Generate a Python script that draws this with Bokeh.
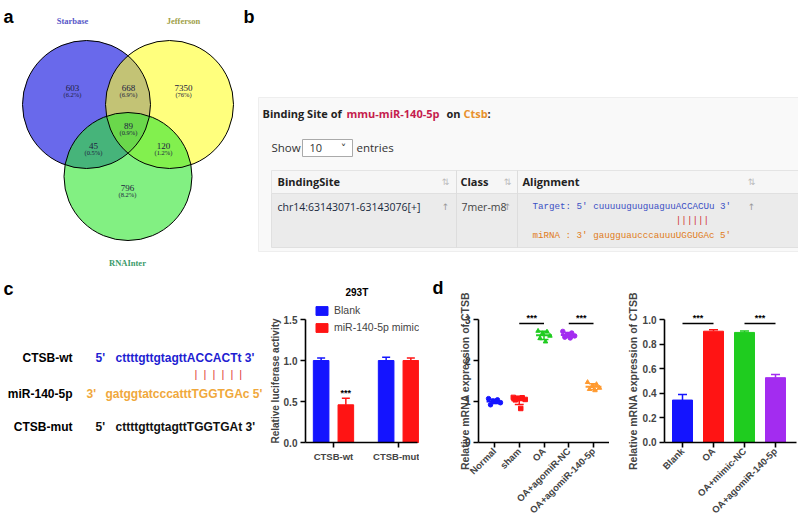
import numpy as np
from bokeh.plotting import figure
from bokeh.models import (Range1d, ColumnDataSource, LinearAxis, FixedTicker, Whisker,
                          TeeHead, Legend, LegendItem, NumeralTickFormatter)
from bokeh.layouts import column, row
from bokeh.embed import file_html
from bokeh.resources import INLINE
from bokeh.core.properties import value

# ---------------- data ----------------
venn_sets = ["Starbase", "Jefferson", "RNAInter"]
venn_regions = ["Starbase", "Starbase&Jefferson", "Jefferson", "all",
                "Starbase&RNAInter", "Jefferson&RNAInter", "RNAInter"]
venn_counts = [603, 668, 7350, 89, 45, 120, 796]

mirna_name = "mmu-miR-140-5p"
target_gene = "Ctsb"
binding_site = "chr14:63143071-63143076[+]"
site_class = "7mer-m8"
target_line = "Target: 5' cuuuuuguuguaguuACCACUu 3'"
mirna_line = "miRNA : 3' gaugguaucccauuuUGGUGAc 5'"

seq_names = ["CTSB-wt", "miR-140-5p", "CTSB-mut"]
seq_start = ["5'", "3'", "5'"]
seq_bodies = ["cttttgttgtagttACCACTt 3'", "gatggtatcccatttTGGTGAc 5'",
              "cttttgttgtagttTGGTGAt 3'"]

luc_groups = ["CTSB-wt", "CTSB-mut"]
luc_series = ["Blank", "miR-140-5p mimic"]
luc_blank = [1.00, 1.00]
luc_blank_err = [0.03, 0.04]
luc_mimic = [0.46, 1.00]
luc_mimic_err = [0.08, 0.03]

mrna_groups = ["Normal", "sham", "OA", "OA+agomiR-NC", "OA+agomiR-140-5p"]
mrna_points = [
    [1.07, 1.04, 1.01, 0.97, 0.92, 1.00],
    [1.10, 1.09, 1.07, 1.05, 1.04, 0.83],
    [2.72, 2.70, 2.66, 2.60, 2.54, 2.46],
    [2.71, 2.67, 2.63, 2.60, 2.57, 2.55],
    [1.47, 1.42, 1.37, 1.33, 1.30, 1.27],
]
mrna_yticks = [0, 1, 2, 3]

cell_groups = ["Blank", "OA", "OA+mimic-NC", "OA+agomiR-140-5p"]
cell_means = [0.345, 0.905, 0.895, 0.527]
cell_errs = [0.045, 0.012, 0.012, 0.025]

# ---------------- styles ----------------
BLUE, RED, GREEN, PURPLE, ORANGE = "#1414ff", "#ff1414", "#1fcc1f", "#a32cf0", "#ff9a30"
SANS = "Liberation Sans"
NB = "\u00a0"


def canvas(w, h, xr, yr):
    return figure(width=w, height=h, x_range=Range1d(*xr), y_range=Range1d(*yr),
                  x_axis_type=None, y_axis_type=None, output_backend="svg",
                  toolbar_location=None, min_border=0, outline_line_color=None,
                  background_fill_color="white", border_fill_color="white")


def txt(p, x, y, s, size, color="black", font=SANS, style="normal",
        align="left", baseline="middle"):
    p.text(x=[x], y=[y], text=[s], text_font=value(font), text_font_size=size,
           text_color=color, text_font_style=style, text_align=align,
           text_baseline=baseline)


def style_axis(ax, fs="10px", lfs="10px", lstand=4):
    ax.axis_line_width = 1.6
    ax.axis_line_color = "black"
    ax.major_tick_line_width = 1.6
    ax.major_tick_out = 5
    ax.major_tick_in = 0
    ax.minor_tick_line_color = None
    ax.major_label_text_font = SANS
    ax.major_label_text_font_style = "bold"
    ax.major_label_text_font_size = fs
    ax.major_label_standoff = 3
    ax.axis_label_text_font = SANS
    ax.axis_label_text_font_style = "bold"
    ax.axis_label_text_font_size = lfs
    ax.axis_label_standoff = lstand


# ---------------- panel a : Venn ----------------
pa = canvas(243, 268, (0, 243), (268, 0))
txt(pa, 3, 16, "a", "18px", style="bold", baseline="alphabetic")
vx, vy, vr = [86, 169, 127.5], [104, 104, 176], 64
pa.circle(x=vx, y=vy, radius=vr, fill_color=["#0505de", "#ffff26", "#2fe62f"],
          fill_alpha=0.6, line_color=None)
pa.circle(x=vx, y=vy, radius=vr, fill_color=None, line_color="black", line_width=1)
for s, x, y, c in zip(venn_sets, [72, 183, 127], [20, 20, 262],
                      ["#5858c8", "#a0a048", "#3a9a6a"]):
    txt(pa, x, y, s, "8.5px", color=c, font="Liberation Serif", style="bold", align="center")
total = sum(venn_counts)
for c, x, y in zip(venn_counts, [72, 128, 183, 128, 93, 163, 127],
                   [87, 87, 87, 125, 145, 145, 187]):
    pct = 100.0 * c / total
    ps = f"({pct:.0f}%)" if pct >= 10 else f"({pct:.1f}%)"
    txt(pa, x, y, str(c), "9px", color="#202040", font="Liberation Serif", align="center")
    txt(pa, x, y + 7, ps, "6.5px", color="#202040", font="Liberation Serif", align="center")

# ---------------- panel b : table ----------------
pb = canvas(555, 268, (243, 798), (268, 0))
txt(pb, 243, 16, "b", "18px", style="bold", baseline="alphabetic")
pb.quad(left=[258], right=[798], top=[97], bottom=[251], fill_color="#f9f9f9",
        line_color="#eeeeee")
OS = "Open Sans"
title_parts = [("Binding Site of", 262, "#222222"), (mirna_name, 346, "#c51d4e"),
               ("on", 446, "#222222"), (target_gene, 463, "#e8912d"), (":", 487, "#222222")]
for s, x, c in title_parts:
    txt(pb, x, 113, s, "11px", color=c, font=OS, style="bold")
txt(pb, 271, 147, "Show", "11.5px", color="#333333", font=OS)
pb.quad(left=[302], right=[352], top=[139], bottom=[156], fill_color="white",
        line_color="#aaaaaa")
txt(pb, 309, 147.5, "10", "11px", color="#333333", font=OS)
txt(pb, 343, 148, "˅", "11px", color="#333333", font="DejaVu Sans", align="center")
txt(pb, 356, 147, "entries", "11.5px", color="#333333", font=OS)
# table
pb.quad(left=[271], right=[798], top=[170], bottom=[193], fill_color="#f6f6f6",
        line_color="#e4e4e4")
pb.quad(left=[271], right=[798], top=[193], bottom=[247], fill_color="#ebebeb",
        line_color="#e0e0e0")
pb.segment(x0=[456, 517], y0=[170, 170], x1=[456, 517], y1=[247, 247],
           line_color="#dddddd", line_width=1)
for s, x in [("BindingSite", 277), ("Class", 460), ("Alignment", 522)]:
    txt(pb, x, 181, s, "11px", color="#222222", font=OS, style="bold")
for x in [445, 507, 751]:
    txt(pb, x, 181, "⇅", "9px", color="#bbbbbb", font="DejaVu Sans", align="center")
    txt(pb, x, 206, "↑", "9px", color="#999999", font="DejaVu Sans", align="center")
txt(pb, 277, 206, binding_site, "10.5px", color="#1a2a40", font=OS)
txt(pb, 461, 206, site_class, "10.5px", color="#444444", font=OS)
MONO = "Liberation Mono"
txt(pb, 532, 206, target_line, "9.2px", color="#3a4fc4", font=MONO)
pairs = NB * (len(target_line) - 10) + "||||||"
txt(pb, 532, 220, pairs, "9.2px", color="#d03030", font=MONO)
txt(pb, 532, 235, mirna_line, "9.2px", color="#e07b20", font=MONO)

# ---------------- panel c : sequences ----------------
pct_ = canvas(267, 248, (0, 267), (516, 268))
txt(pct_, 3, 288, "c", "18px", style="bold", baseline="alphabetic")
seq_colors = ["#1e1ed2", "#f0a83c", "#111111"]
seq_y = [357, 393, 426]
seq_x0 = [95, 86, 95]
seq_x1 = [115, 105, 115]
for n, st, b, c, y, x0, x1 in zip(seq_names, seq_start, seq_bodies, seq_colors,
                                   seq_y, seq_x0, seq_x1):
    txt(pct_, 72, y, n, "12px", style="bold", align="right")
    txt(pct_, x0, y, st, "12px", color=c, style="bold")
    txt(pct_, x1, y, b, "12px", color=c, style="bold")
txt(pct_, 194, 373, (NB * 2).join(["|"] * 6), "11px", color="#e03a3a")

# ---------------- panel c : luciferase bars ----------------
pc = canvas(152, 248, (-1.015, 1.3231), (-0.902, 2.122))
xs = np.arange(len(luc_groups)).astype(float)
dx, bw = 0.19, 0.24
src = ColumnDataSource(dict(xb=xs - dx, xm=xs + dx, blank=luc_blank, mimic=luc_mimic,
                            ub=np.add(luc_blank, luc_blank_err),
                            um=np.add(luc_mimic, luc_mimic_err)))
r1 = pc.vbar(x="xb", top="blank", bottom=0, width=bw, source=src,
             fill_color=BLUE, line_color=BLUE)
r2 = pc.vbar(x="xm", top="mimic", bottom=0, width=bw, source=src,
             fill_color=RED, line_color=RED)
for base, low, up, col in [("xb", "blank", "ub", BLUE), ("xm", "mimic", "um", RED)]:
    pc.add_layout(Whisker(base=base, lower=low, upper=up, source=src, line_color=col,
                          line_width=1.5, lower_head=None,
                          upper_head=TeeHead(size=8, line_color=col, line_width=1.5)))
ya = LinearAxis(fixed_location=-0.431, bounds=(0, 1.5), ticker=FixedTicker(ticks=[0, 0.5, 1, 1.5]),
                formatter=NumeralTickFormatter(format="0.0"),
                axis_label="Relative luciferase activity")
style_axis(ya, "10px", "10px", 0)
pc.add_layout(ya, "left")
xa = LinearAxis(fixed_location=0, bounds=(-0.431, 1.30), ticker=FixedTicker(ticks=list(xs)),
                major_label_overrides={float(i): g for i, g in zip(xs, luc_groups)})
style_axis(xa, "9.5px")
pc.add_layout(xa, "below")
sig_i = int(np.argmin(luc_mimic))
txt(pc, xs[sig_i] + dx, luc_mimic[sig_i] + luc_mimic_err[sig_i] + 0.005, "***", "9px",
    style="bold", align="center", baseline="bottom")
txt(pc, 0.36, 1.83, "293T", "10px", style="bold", align="center")
leg = Legend(items=[LegendItem(label=luc_series[0], renderers=[r1]),
                    LegendItem(label=luc_series[1], renderers=[r2])],
             location=(47, 183), padding=0, margin=0, spacing=5, glyph_width=15,
             glyph_height=11, label_height=11, label_standoff=5,
             label_text_font=SANS, label_text_font_size="10.5px",
             border_line_color=None, background_fill_alpha=0)
pc.add_layout(leg)

# ---------------- panel d : mRNA scatter ----------------
D1W = 190
D1X = (-3.03, 4.646)
pd1 = canvas(D1W, 248, D1X, (-1.805, 4.244))
px_per_x = D1W / (D1X[1] - D1X[0])
txt(pd1, -2.505, 3.78, "d", "18px", style="bold", baseline="alphabetic")
mcols = [BLUE, RED, GREEN, PURPLE, ORANGE]
markers = ["circle", "square", "triangle", "circle", "triangle"]
jit = [-0.24, 0.12, -0.06, 0.24, -0.16, 0.06]
means = [float(np.mean(p)) for p in mrna_points]
sds = [float(np.std(p, ddof=1)) for p in mrna_points]
x1 = np.arange(len(mrna_groups)).astype(float)
for i, (pts, col, mk) in enumerate(zip(mrna_points, mcols, markers)):
    n = len(pts)
    pd1.scatter(x=[i + j for j in jit[:n]], y=pts, marker=mk, size=4.5,
                fill_color=col, line_color=col)
stats = ColumnDataSource(dict(x=x1, m=means, lo=np.subtract(means, sds),
                              hi=np.add(means, sds), c=mcols,
                              xl=x1 - 0.32, xr=x1 + 0.32, cl=x1 - 0.18, cr=x1 + 0.18))
pd1.segment(x0="xl", y0="m", x1="xr", y1="m", line_color="c", line_width=2, source=stats)
pd1.segment(x0="x", y0="lo", x1="x", y1="hi", line_color="c", line_width=1.5, source=stats)
pd1.segment(x0="cl", y0="lo", x1="cr", y1="lo", line_color="c", line_width=1.5, source=stats)
pd1.segment(x0="cl", y0="hi", x1="cr", y1="hi", line_color="c", line_width=1.5, source=stats)
ymax = max(max(p) for p in mrna_points)
ys = ymax + 0.18
for a, b in [(1, 2), (3, 4)]:
    pd1.segment(x0=[a], y0=[ys], x1=[b], y1=[ys], line_color="black", line_width=1.5)
    txt(pd1, (a + b) / 2, ys + 0.02, "***", "9px", style="bold", align="center",
        baseline="bottom")

# y axis of the scatter: the axis object carries the ticker and title; its rule,
# ticks and numbers are drawn through the same scales (that axis' own rule did not paint)
yfix = -0.646
ya1 = LinearAxis(fixed_location=yfix, bounds=(0, mrna_yticks[-1]),
                 ticker=FixedTicker(ticks=mrna_yticks),
                 major_label_overrides={float(t): "" for t in mrna_yticks},
                 axis_label="Relative mRNA expression of CTSB")
style_axis(ya1, "10px", "10.5px", 3)
ya1.axis_line_color = None
ya1.major_tick_line_color = None
pd1.add_layout(ya1, "left")
tick_len = 5 / px_per_x
lab_off = 8 / px_per_x
pd1.segment(x0=[yfix], y0=[0], x1=[yfix], y1=[mrna_yticks[-1]], line_color="black",
            line_width=1.6)
pd1.segment(x0=[yfix - tick_len] * len(mrna_yticks), y0=mrna_yticks,
            x1=[yfix] * len(mrna_yticks), y1=mrna_yticks, line_color="black", line_width=1.6)
pd1.text(x=[yfix - lab_off] * len(mrna_yticks), y=mrna_yticks,
         text=[str(t) for t in mrna_yticks], text_font=value(SANS), text_font_size="10px",
         text_font_style="bold", text_color="#333333", text_align="right",
         text_baseline="middle")

xa1 = LinearAxis(fixed_location=0, bounds=(yfix, 4.646), ticker=FixedTicker(ticks=list(x1)),
                 major_label_overrides={float(i): g for i, g in zip(x1, mrna_groups)},
                 major_label_orientation=np.pi / 4)
style_axis(xa1, "9.5px")
xa1.major_label_standoff = 2
pd1.add_layout(xa1, "below")

# ---------------- panel d : mRNA bars ----------------
pd2 = canvas(189, 248, (-2.355, 3.742), (-0.602, 1.415))
x2 = np.arange(len(cell_groups)).astype(float)
ccols = [BLUE, RED, GREEN, PURPLE]
src2 = ColumnDataSource(dict(x=x2, top=cell_means, up=np.add(cell_means, cell_errs), c=ccols))
pd2.vbar(x="x", top="top", bottom=0, width=0.645, source=src2, fill_color="c", line_color="c")
for i, col in enumerate(ccols):
    s = ColumnDataSource(dict(x=[x2[i]], lo=[cell_means[i]], hi=[cell_means[i] + cell_errs[i]]))
    pd2.add_layout(Whisker(base="x", lower="lo", upper="hi", source=s, line_color=col,
                           line_width=1.5, lower_head=None,
                           upper_head=TeeHead(size=9, line_color=col, line_width=1.5)))
ys2 = max(np.add(cell_means, cell_errs)) + 0.05
for a, b in [(0, 1), (2, 3)]:
    pd2.segment(x0=[a], y0=[ys2], x1=[b], y1=[ys2], line_color="black", line_width=1.5)
    txt(pd2, (a + b) / 2, ys2 + 0.006, "***", "9px", style="bold", align="center",
        baseline="bottom")
ya2 = LinearAxis(fixed_location=-0.58, bounds=(0, 1), ticker=FixedTicker(ticks=[0, 0.2, 0.4, 0.6, 0.8, 1.0]),
                 formatter=NumeralTickFormatter(format="0.0"),
                 axis_label="Relative mRNA expression of CTSB")
style_axis(ya2, "10px", "10.5px", 1)
pd2.add_layout(ya2, "left")
xa2 = LinearAxis(fixed_location=0, bounds=(-0.58, 3.68), ticker=FixedTicker(ticks=list(x2)),
                 major_label_overrides={float(i): g for i, g in zip(x2, cell_groups)},
                 major_label_orientation=np.pi / 4)
style_axis(xa2, "9.5px")
xa2.major_label_standoff = 2
pd2.add_layout(xa2, "below")

layout = column(row(pa, pb), row(pct_, pc, pd1, pd2))
open("out.html", "w").write(file_html(layout, INLINE, title="CTSB"))
